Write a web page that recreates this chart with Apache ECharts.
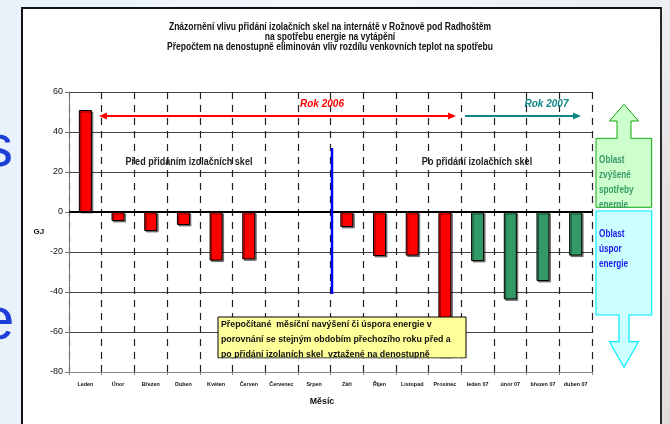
<!DOCTYPE html>
<html>
<head>
<meta charset="utf-8">
<script src="https://cdn.jsdelivr.net/npm/echarts@6/dist/echarts.min.js"></script>
<style>
html,body{margin:0;padding:0;}
body{width:670px;height:424px;overflow:hidden;position:relative;background:linear-gradient(90deg,#e9f2fb 0%,#f3f8fd 55%,#e9eef4 100%);font-family:'Liberation Sans',Arial,sans-serif;}
#rightstrip{position:absolute;left:660px;top:0;width:10px;height:424px;background:linear-gradient(180deg,#eef1f6 0%,#e9e3e5 35%,#e3dbdb 100%);}
.slide{position:absolute;color:#1d3fd8;font-size:60px;line-height:1;font-family:'Liberation Sans',Arial,sans-serif;}
#frame{position:absolute;left:21px;top:7px;height:440px;background:#fff;border-left:2px solid #111;border-top:2px solid #111;border-right:2px solid #2a2a2a;box-sizing:border-box;width:641px;}
#chart{position:absolute;left:0;top:0;width:670px;height:424px;}
</style>
</head>
<body>
<div id="rightstrip"></div>
<div class="slide" style="left:-17px;top:116px;">s</div>
<div class="slide" style="left:-19px;top:289px;">e</div>
<div id="frame"></div>
<div id="chart"></div>
<script>
// ---- data ----
const categories = ['Leden','Únor','Březen','Duben','Květen','Červen','Červenec','Srpen','Září','Říjen','Listopad','Prosinec','leden 07','únor 07','březen 07','duben 07'];
const energyGJ = [51, -4.5, -9.5, -6.5, -24.3, -23.7, null, null, -7.5, -22, -21.8, -73, -24.5, -43.7, -34.5, -21.8];
const yearOf = ['2006','2006','2006','2006','2006','2006','2006','2006','2006','2006','2006','2006','2007','2007','2007','2007'];
const yMin = -80, yMax = 60, yStep = 20;
const titleLines = [
  'Znázornění vlivu přidání izolačních skel na internátě v Rožnově pod Radhoštěm',
  'na spotřebu energie na vytápění',
  'Přepočtem na denostupně eliminován vliv rozdílu venkovních teplot na spotřebu'
];
const xAxisName = 'Měsíc';
const yAxisName = 'GJ';
const label2006 = 'Rok 2006';
const label2007 = 'Rok 2007';
const labelBefore = 'Před přidáním izolačních skel';
const labelAfter = 'Po přidání izolačních skel';
const noteLines = [
  'Přepočítané  měsíční navýšení či úspora energie v',
  'porovnání se stejným obdobím přechozího roku před a',
  'po přidání izolaních skel  vztažené na denostupně'
];
const increaseLines = ['Oblast','zvýšené','spotřeby','energie'];
const savingLines = ['Oblast','úspor','energie'];

// ---- styles ----
const SANS = "'Liberation Sans',Arial,sans-serif";
const NARROW_X = 0.82; // horizontal squeeze to imitate a narrow face
const colorByYear = {'2006':'#ff0000','2007':'#339966'};

const chart = echarts.init(document.getElementById('chart'), null, {renderer:'canvas'});

const Z = 100;
const graphics = [
  // title (narrow bold)
  {type:'text', z:Z, x:330, y:22, scaleX:0.85, style:{text:titleLines.join('\n'), fill:'#111', font:'bold 10px '+SANS, lineHeight:9.9, align:'center', verticalAlign:'top'}},
  // Rok 2006 arrow (double headed)
  {type:'line', z:Z, shape:{x1:105,y1:116,x2:449,y2:116}, style:{stroke:'#ff0000',lineWidth:2}},
  {type:'polygon', z:Z, shape:{points:[[99,116],[107,112.5],[107,119.5]]}, style:{fill:'#ff0000'}},
  {type:'polygon', z:Z, shape:{points:[[456,116],[448,112.5],[448,119.5]]}, style:{fill:'#ff0000'}},
  {type:'text', z:Z, x:322, y:104, style:{text:label2006, fill:'#ff0000', font:'italic bold 10px '+SANS, align:'center', verticalAlign:'middle'}},
  // Rok 2007 arrow
  {type:'line', z:Z, shape:{x1:465,y1:116,x2:574,y2:116}, style:{stroke:'#108585',lineWidth:2}},
  {type:'polygon', z:Z, shape:{points:[[581,116],[573,112.5],[573,119.5]]}, style:{fill:'#108585'}},
  {type:'text', z:Z, x:546.5, y:104, style:{text:label2007, fill:'#108585', font:'italic bold 10px '+SANS, align:'center', verticalAlign:'middle'}},
  // period labels
  {type:'text', z:Z, x:189, y:162, scaleX:NARROW_X, style:{text:labelBefore, fill:'#222', font:'bold 11px '+SANS, align:'center', verticalAlign:'middle'}},
  {type:'text', z:Z, x:477, y:162, scaleX:NARROW_X, style:{text:labelAfter, fill:'#222', font:'bold 11px '+SANS, align:'center', verticalAlign:'middle'}},
  // blue separator
  {type:'line', z:Z, shape:{x1:332,y1:148,x2:332,y2:294}, style:{stroke:'#0000ff',lineWidth:2.5}},
  // yellow note
  {type:'rect', z:Z, shape:{x:218,y:317,width:248,height:41}, style:{fill:'#ffff99',stroke:'#000',lineWidth:1}},
  {type:'text', z:Z+1, x:221, y:317.7, style:{text:noteLines.join('\n'), fill:'#111', font:'bold 8.8px '+SANS, lineHeight:14.7, verticalAlign:'top', align:'left'}},
  {type:'rect', z:Z+2, shape:{x:217,y:358.6,width:251,height:4}, style:{fill:'#fff'}},
  // green up arrow
  {type:'polygon', z:Z, shape:{points:[[624,104.3],[638.5,121],[631,121],[631,138.3],[651.7,138.3],[651.7,207.3],[596,207.3],[596,138.3],[617,138.3],[617,121],[609.5,121]]}, style:{fill:'#ccffcc',stroke:'#11aa11',lineWidth:1}},
  {type:'text', z:Z+1, x:599, y:152.5, scaleX:NARROW_X, style:{text:increaseLines.join('\n'), fill:'#3a9a66', font:'bold 10px '+SANS, lineHeight:15, verticalAlign:'top', align:'left'}},
  {type:'rect', z:Z+2, shape:{x:594,y:208,width:60,height:2.6}, style:{fill:'#fff'}},
  // cyan down arrow
  {type:'polygon', z:Z+3, shape:{points:[[596,211],[651.7,211],[651.7,315],[629,315],[629,341.7],[638.5,341.7],[624,367.3],[609.5,341.7],[619,341.7],[619,315],[596,315]]}, style:{fill:'#ccffff',stroke:'#00eeff',lineWidth:1.2}},
  {type:'text', z:Z+4, x:599, y:226.5, scaleX:NARROW_X, style:{text:savingLines.join('\n'), fill:'#1a1aee', font:'bold 10px '+SANS, lineHeight:15, verticalAlign:'top', align:'left'}}
];

const option = {
  backgroundColor:'transparent',
  animation:false,
  grid:{left:69, right:78, top:92, bottom:52},
  xAxis:{
    type:'category', data:categories, position:'bottom',
    axisLine:{onZero:false, lineStyle:{color:'#888', width:1}},
    axisTick:{show:true, length:3, lineStyle:{color:'#888'}},
    axisLabel:{interval:0, fontFamily:SANS, fontSize:5.4, fontWeight:'bold', color:'#111', margin:10},
    splitLine:{show:true, interval:0, lineStyle:{type:[7,6], color:'#222', width:1.2}},
    name:xAxisName, nameLocation:'middle', nameGap:25,
    nameTextStyle:{fontFamily:SANS, fontSize:8.8, fontWeight:'bold', color:'#111', padding:[0,17,0,0]}
  },
  yAxis:{
    type:'value', min:yMin, max:yMax, interval:yStep,
    axisLine:{show:true, lineStyle:{color:'#777'}},
    axisTick:{show:true, length:4, lineStyle:{color:'#777'}},
    axisLabel:{fontFamily:SANS, fontSize:9, color:'#111', margin:6},
    splitLine:{show:true, lineStyle:{color:'#444', width:1}},
    name:yAxisName, nameLocation:'middle', nameRotate:0, nameGap:23,
    nameTextStyle:{fontFamily:SANS, fontSize:8, fontWeight:'bold', color:'#111'}
  },
  series:[{
    type:'bar',
    data: energyGJ.map((v,i)=>({value:v, itemStyle:{color:colorByYear[yearOf[i]]}})),
    barWidth:13,
    itemStyle:{borderColor:'#000', borderWidth:1, shadowColor:'rgba(0,0,0,0.45)', shadowOffsetX:1.5, shadowOffsetY:1.5, shadowBlur:0},
    markLine:{silent:true, symbol:'none', label:{show:false}, lineStyle:{color:'#000', width:2, type:'solid'}, data:[{yAxis:0}]}
  }],
  graphic: graphics
};
chart.setOption(option);
</script>
</body>
</html>
